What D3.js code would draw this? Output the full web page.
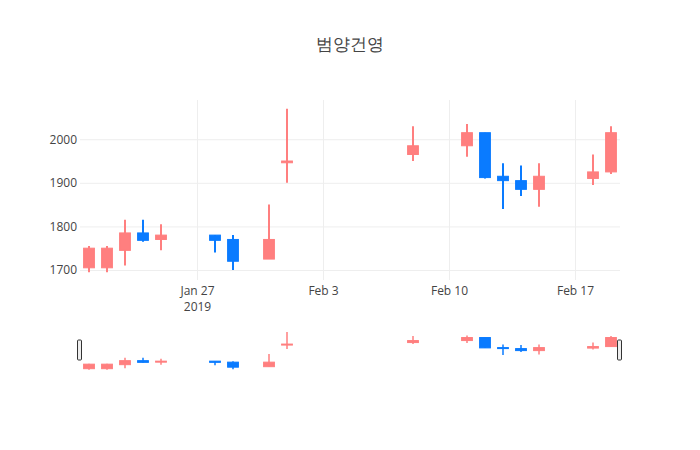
<!DOCTYPE html>
<html>
<head>
<meta charset="utf-8">
<script src="https://cdn.jsdelivr.net/npm/d3@7"></script>
<style>
  body { margin: 0; background: #fff; }
  svg text { font-family: "Open Sans", sans-serif; }
</style>
</head>
<body>
<svg id="chart"></svg>
<script>
// daily prices
const dates = ["2019-01-21", "2019-01-22", "2019-01-23", "2019-01-24", "2019-01-25",
    "2019-01-28", "2019-01-29", "2019-01-31", "2019-02-01", "2019-02-08",
    "2019-02-11", "2019-02-12", "2019-02-13", "2019-02-14", "2019-02-15",
    "2019-02-18", "2019-02-19"];
const open  = [1705, 1705, 1745, 1785, 1770, 1780, 1770, 1725, 1946, 1965, 1985, 2015, 1915, 1905, 1885, 1910, 1925];
const high  = [1755, 1755, 1815, 1815, 1805, 1780, 1780, 1850, 2070, 2030, 2035, 2015, 1945, 1940, 1945, 1965, 2030];
const low   = [1695, 1695, 1710, 1765, 1745, 1740, 1700, 1725, 1900, 1950, 1960, 1910, 1840, 1870, 1845, 1895, 1920];
const close = [1750, 1750, 1785, 1768, 1780, 1768, 1720, 1770, 1950, 1985, 2015, 1912, 1905, 1885, 1915, 1925, 2015];

const yTicks = [1700, 1800, 1900, 2000];
const xTicks = ["2019-01-27", "2019-02-03", "2019-02-10", "2019-02-17"];

const width = 700;
const height = 450;
const plotLeft = 80, plotRight = 620, plotTop = 100, plotBottom = 280;
const sliderTop = 330, sliderBottom = 370;

const upColor = "#ff7f7f";
const downColor = "#0a7bff";

const parse = d3.timeParse("%Y-%m-%d");
const rows = dates.map((d, i) => ({
    date: parse(d), o: open[i], h: high[i], l: low[i], c: close[i]
}));

const xScale = d3.scaleTime()
    .domain([new Date(2019, 0, 20, 12), new Date(2019, 1, 19, 12)])
    .range([plotLeft, plotRight]);

const yScale = d3.scaleLinear()
    .domain([1677, 2090])
    .range([plotBottom, plotTop]);

const ySlider = d3.scaleLinear()
    .domain([1677, 2090])
    .range([sliderBottom + 1.5, sliderTop]);

const svg = d3.select("#chart")
    .attr("width", width)
    .attr("height", height);

// title
svg.append("text")
    .text("범양건영")
    .attr("x", width / 2)
    .attr("y", 50)
    .attr("text-anchor", "middle")
    .style("font-size", "17px")
    .style("fill", "#444");

// y axis + horizontal grid
const yAxis = d3.axisLeft(yScale)
    .tickValues(yTicks)
    .tickSize(-(plotRight - plotLeft))
    .tickPadding(3)
    .tickFormat(d3.format("d"));

const gy = svg.append("g")
    .attr("transform", "translate(" + plotLeft + ",0)")
    .call(yAxis);
gy.select(".domain").remove();
gy.selectAll("line").attr("stroke", "#eee");
gy.selectAll("text").style("font-size", "12px").style("fill", "#444");

// x axis + vertical grid
const xAxis = d3.axisBottom(xScale)
    .tickValues(xTicks.map(parse))
    .tickSize(-(plotBottom - plotTop))
    .tickPadding(6)
    .tickFormat(d3.timeFormat("%b %-d"));

const gx = svg.append("g")
    .attr("transform", "translate(0," + plotBottom + ")")
    .call(xAxis);
gx.select(".domain").remove();
gx.selectAll("line").attr("stroke", "#eee");
gx.selectAll("text").style("font-size", "12px").style("fill", "#444");
gx.selectAll("text")
    .filter((d, i) => i === 0)
    .append("tspan")
    .attr("x", 0)
    .attr("dy", "1.35em")
    .text("2019");

const bodyW = (xScale(parse("2019-01-22")) - xScale(parse("2019-01-21"))) * 0.6;

const drawCandles = (g, y, wick) => {
    const c = g.selectAll("g.candle")
        .data(rows)
        .enter()
        .append("g")
        .attr("class", "candle")
        .attr("fill", d => d.c > d.o ? upColor : downColor)
        .attr("stroke", d => d.c > d.o ? upColor : downColor);

    c.append("line")
        .attr("x1", d => xScale(d.date))
        .attr("x2", d => xScale(d.date))
        .attr("y1", d => y(d.h))
        .attr("y2", d => y(d.l))
        .attr("stroke-width", wick);

    c.append("rect")
        .attr("x", d => xScale(d.date) - bodyW / 2)
        .attr("width", bodyW)
        .attr("y", d => y(Math.max(d.o, d.c)))
        .attr("height", d => Math.max(1, Math.abs(y(d.o) - y(d.c))))
        .attr("stroke-width", 1);
};

drawCandles(svg.append("g"), yScale, 2);

// range slider
const slider = svg.append("g");
slider.append("rect")
    .attr("x", plotLeft)
    .attr("y", sliderTop)
    .attr("width", plotRight - plotLeft)
    .attr("height", sliderBottom - sliderTop)
    .attr("fill", "#fff");

drawCandles(slider.append("g"), ySlider, 1.5);

[plotLeft, plotRight].forEach(x => {
    slider.append("rect")
        .attr("x", x - 2.5)
        .attr("y", sliderTop + 10)
        .attr("width", 4)
        .attr("height", 20)
        .attr("rx", 1)
        .attr("fill", "#eee")
        .attr("stroke", "#333")
        .attr("stroke-width", 1);
});
</script>
</body>
</html>
